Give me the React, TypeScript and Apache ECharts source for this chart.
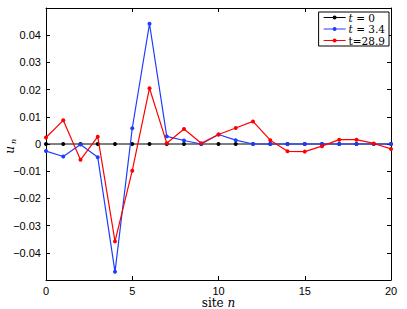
import React, { useEffect, useRef } from "react";
import * as echarts from "echarts";

const sites = [0, 1, 2, 3, 4, 5, 6, 7, 8, 9, 10, 11, 12, 13, 14, 15, 16, 17, 18, 19, 20];
const u0 = [0, 0, 0, 0, 0, 0, 0, 0, 0, 0, 0, 0, 0, 0, 0, 0, 0, 0, 0, 0, 0];
const u34 = [-0.0026, -0.0046, -0.0002, -0.0049, -0.047, 0.0058, 0.0442, 0.0028, 0.0013, 0.0, 0.0035, 0.0014, 0.0, 0.0, 0.0, 0.0, 0.0, 0.0, 0.0, 0.0, 0.0];
const u289 = [0.0024, 0.0087, -0.0058, 0.0027, -0.0358, -0.0098, 0.0205, 0.0003, 0.0055, 0.0003, 0.0035, 0.0059, 0.0083, 0.0014, -0.0027, -0.0028, -0.0008, 0.0016, 0.0016, 0.0002, -0.0018];
const seriesNames = ["t = 0", "t = 3.4", "t=28.9"];
const xTicks = [0, 5, 10, 15, 20];
const yTickLabels = ["0.04", "0.03", "0.02", "0.01", "0", "\u22120.01", "\u22120.02", "\u22120.03", "\u22120.04"];

const SERIF = "'DejaVu Serif', 'Liberation Serif', serif";
const SANS = "'Liberation Sans', Arial, sans-serif";
const LEGEND_ICON =
  "path://M0,1.5 L22,1.5 L22,2.5 L0,2.5 Z M13,2 A2,2 0 1 1 9,2 A2,2 0 1 1 13,2 Z";

export default function App() {
  const ref = useRef<HTMLDivElement>(null);
  useEffect(() => {
    if (!ref.current) return;
    const chart = echarts.init(ref.current, null, { renderer: "svg" });
    const mk = (vals: number[]) => sites.map((s, i) => [s, vals[i]]);
    const colors = ["#000000", "#1e3cff", "#ff0000"];
    const data = [u0, u34, u289];
    const fmtY = (v: number) => {
      const r = Math.round(v * 100);
      if (r === 0) return "0";
      const s = Math.abs(v).toFixed(2);
      return (v < 0 ? "\u2212" : "") + s;
    };
    const axisCommon = {
      axisLine: { show: true, onZero: false, lineStyle: { color: "#000", width: 1 } },
      splitLine: { show: false },
      axisTick: { show: true, inside: true, length: 4, lineStyle: { color: "#000", width: 1 } },
    };
    chart.setOption({
      animation: false,
      backgroundColor: "#fff",
      grid: { left: 46, right: 16, top: 8, bottom: 29, containLabel: false, outerBoundsMode: "none" },
      xAxis: [
        {
          type: "value",
          min: 0,
          max: 20,
          interval: 5,
          position: "bottom",
          ...axisCommon,
          axisLabel: {
            show: true,
            color: "#000",
            fontFamily: SANS,
            fontSize: 11,
            lineHeight: 11,
            margin: 5,
            formatter: (v: number) => (xTicks.includes(v) ? String(v) : ""),
          },
          name: "{r|site }{i|n}",
          nameLocation: "middle",
          nameGap: 17,
          nameMoveOverlap: false,
          nameTextStyle: {
            lineHeight: 12,
            rich: {
              r: { fontFamily: SERIF, fontSize: 12, lineHeight: 12, color: "#000" },
              i: { fontFamily: SERIF, fontSize: 12, lineHeight: 12, fontStyle: "italic", color: "#000" },
            },
          },
        },
        {
          type: "value",
          min: 0,
          max: 20,
          interval: 5,
          position: "top",
          ...axisCommon,
          axisLabel: { show: false },
        },
      ],
      yAxis: [
        {
          type: "value",
          min: -0.05,
          max: 0.05,
          interval: 0.01,
          position: "left",
          ...axisCommon,
          axisLabel: {
            show: true,
            color: "#000",
            fontFamily: SANS,
            fontSize: 11,
            margin: 5,
            showMinLabel: false,
            showMaxLabel: false,
            formatter: (v: number) => {
              const f = fmtY(v);
              return yTickLabels.includes(f) ? f : "";
            },
          },
        },
        {
          type: "value",
          min: -0.05,
          max: 0.05,
          interval: 0.01,
          position: "right",
          ...axisCommon,
          axisLabel: { show: false },
        },
      ],
      legend: {
        data: seriesNames.map((n) => ({ name: n, icon: LEGEND_ICON })),
        orient: "vertical",
        right: 18,
        top: 12,
        padding: [0, 4, 0, 5],
        itemGap: 0.5,
        itemWidth: 22,
        itemHeight: 10,
        borderColor: "#000",
        borderWidth: 1,
        borderRadius: 0,
        backgroundColor: "#fff",
        textStyle: {
          fontFamily: SERIF,
          fontSize: 10.5,
          color: "#000",
          lineHeight: 10,
          padding: [0, 0, 0, -2],
          rich: {
            i: { fontFamily: SERIF, fontSize: 10.5, fontStyle: "italic", color: "#000", lineHeight: 10 },
            r: { fontFamily: SERIF, fontSize: 10.5, color: "#000", lineHeight: 10 },
          },
        },
        formatter: (name: string) => {
          if (name.startsWith("t = ")) return "{i|t}{r|" + name.slice(1) + "}";
          return "{r|" + name + "}";
        },
      },
      graphic: [
        {
          type: "group",
          x: 10,
          y: 145,
          rotation: Math.PI / 2,
          children: [
            {
              type: "text",
              x: -5,
              y: 0,
              style: {
                text: "u",
                fontFamily: SERIF,
                fontStyle: "italic",
                fontSize: 12,
                fill: "#000",
                textAlign: "center",
                textVerticalAlign: "middle",
              },
            },
            {
              type: "text",
              x: 1,
              y: 3,
              style: {
                text: "n",
                fontFamily: SERIF,
                fontStyle: "italic",
                fontSize: 8,
                fill: "#000",
                textAlign: "left",
                textVerticalAlign: "middle",
              },
            },
          ],
        },
      ],
      series: data.map((vals, k) => ({
        name: seriesNames[k],
        type: "line",
        data: mk(vals),
        xAxisIndex: 0,
        yAxisIndex: 0,
        symbol: "circle",
        symbolSize: 4,
        showSymbol: true,
        color: colors[k],
        itemStyle: { color: colors[k] },
        lineStyle: { color: colors[k], width: 1.2 },
        z: 2 + k,
      })),
    });
    return () => chart.dispose();
  }, []);
  return <div ref={ref} style={{ width: 407, height: 309, position: "absolute", left: 0, top: 0 }} />;
}
